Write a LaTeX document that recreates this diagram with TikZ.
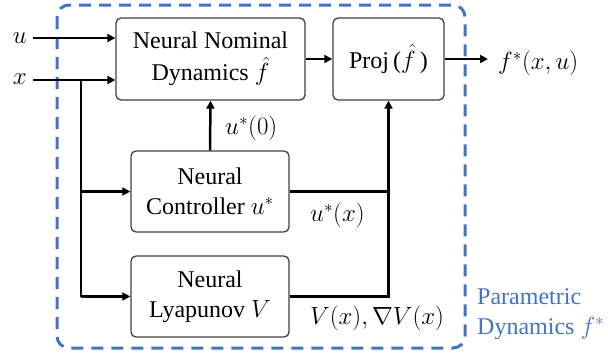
\documentclass[tikz,border=0pt]{standalone}
\usepackage{fontspec}
\setmainfont{Liberation Serif}
\usetikzlibrary{arrows.meta,calc}
\definecolor{frameblue}{HTML}{4472C4}
\definecolor{boxgray}{HTML}{404040}
\begin{document}
\begin{tikzpicture}[x=1pt,y=-1pt,
  every node/.style={font=\fontsize{24}{30}\selectfont},
  blk/.style={draw=boxgray,line width=1.3pt,rounded corners=5pt,align=center,inner sep=0pt},
  conn/.style={line width=2.5pt,black},
  arr/.style={conn,-{Triangle[length=8pt,width=8pt]}},
  lab/.style={inner sep=0pt}]
\useasboundingbox (0,0) rectangle (608,356);
% frame
\draw[frameblue,line width=3pt,dash pattern=on 12pt off 8pt,rounded corners=12pt]
  (57,5) rectangle (465,348);
% blocks
\node[blk,minimum width=189pt,minimum height=82pt,font=\fontsize{24}{32}\selectfont] (nom) at (210.5,59) {Neural Nominal\\Dynamics $\hat{f}$};
\node[blk,minimum width=111pt,minimum height=82pt] (proj) at (388.5,59) {Proj\,($\hat{f}\,$)};
\node[blk,minimum width=158pt,minimum height=81pt] (ctrl) at (210,191.5) {Neural\\Controller $u^{*}$};
\node[blk,minimum width=158pt,minimum height=81pt] (lyap) at (210,296.5) {Neural\\Lyapunov $V$};
% inputs
\node[lab,anchor=east,inner sep=6pt] (ulab) at (33,38) {$u$};
\node[lab,anchor=east,inner sep=6pt] (xlab) at (33,79) {$x$};
\coordinate (br) at (81,80);
\draw[arr] (ulab.east) -- (ulab.east -| nom.west);
\draw[arr] (33,80) -- (33,80 -| nom.west);
\draw[conn] (br) -- (br |- lyap.west);
\draw[arr] (br |- ctrl.west) -- (ctrl.west);
\draw[arr] (br |- lyap.west) -- (lyap.west);
% internal
\draw[arr] (ctrl.north) -- (nom.south);
\draw[arr] (nom.east) -- (proj.west);
\draw[conn] (lyap.east) -| (proj.south |- ctrl.east);
\draw[arr] (ctrl.east) -| (proj.south);
% output
\node[lab,anchor=west,inner sep=0pt] (fout) at (498,63) {$f^{*}(x,u)$};
\draw[arr] (proj.east) -- ($(fout.west |- proj.east)+(-10,0)$);
% labels
\node[lab,anchor=west] (l0) at (225,128) {$u^{*}(0)$};
\node[lab,anchor=west] (lx) at (310,215) {$u^{*}(x)$};
\node[lab,anchor=west] (lv) at (310,318) {$V(x),\nabla V(x)$};
\node[lab,anchor=west,align=left,text=frameblue] (pd) at (477,314) {Parametric\\Dynamics $f^{*}$};
\end{tikzpicture}
\end{document}
